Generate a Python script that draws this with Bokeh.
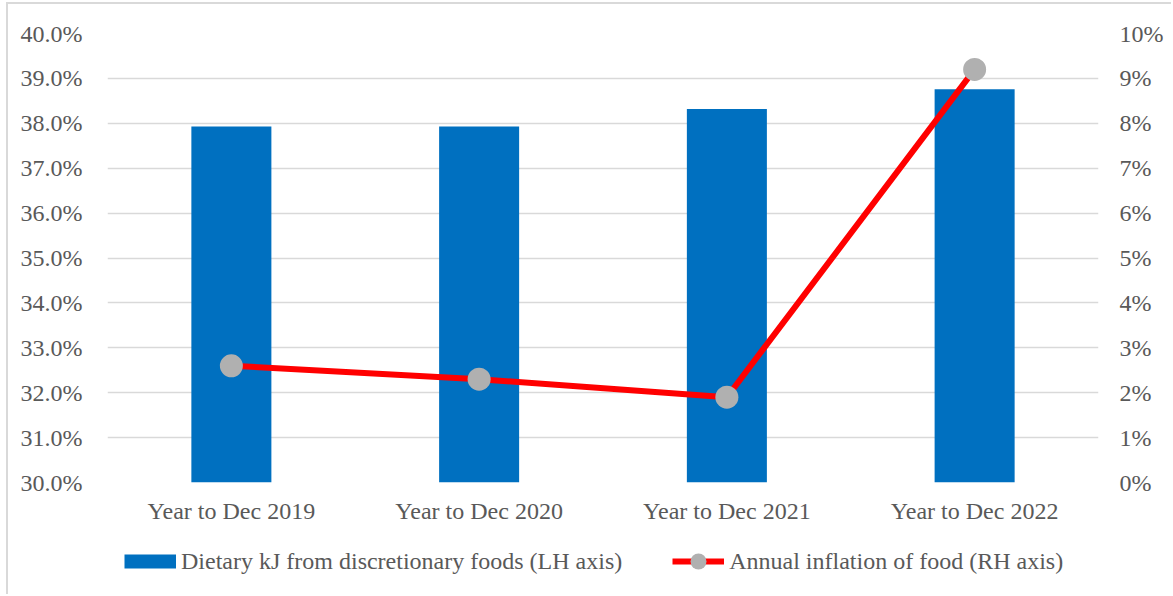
from bokeh.plotting import figure
from bokeh.layouts import column
from bokeh.models import (Range1d, LinearAxis, FixedTicker, CustomJSTickFormatter,
                          Legend, LegendItem, FactorRange)
from bokeh.embed import file_html
from bokeh.resources import INLINE

categories = ["Year to Dec 2019", "Year to Dec 2020", "Year to Dec 2021", "Year to Dec 2022"]
dietary_kj = [37.93, 37.93, 38.32, 38.76]       # % (LH axis)
food_inflation = [2.6, 2.3, 1.9, 9.2]            # % (RH axis)
left_ticks = [30, 31, 32, 33, 34, 35, 36, 37, 38, 39, 40]
right_ticks = [0, 1, 2, 3, 4, 5, 6, 7, 8, 9, 10]
bar_label = "Dietary kJ from discretionary foods (LH axis)"
line_label = "Annual inflation of food (RH axis)"

FONT = "Liberation Serif"
TXT = "#595959"
GRID = "#d9d9d9"
FS = "24px"
BLUE = "#0070C0"
RED = "#FF0000"
GREY = "#B0B0B0"
NAN = float("nan")

# ---------------- main chart ----------------
p = figure(x_range=FactorRange(*categories), y_range=Range1d(30, 40),
           width=1165, height=536, output_backend="svg", toolbar_location=None,
           min_border_left=99, min_border_right=75, min_border_top=29, min_border_bottom=58)
p.margin = (2, 0, 0, 6)
p.styles = {"border-top": "2px solid #d9d9d9", "border-left": "2px solid #d9d9d9"}
p.outline_line_color = None
p.extra_y_ranges = {"rh": Range1d(0, 10)}

p.vbar(x=categories, top=dietary_kj, bottom=30, width=0.323,
       fill_color=BLUE, line_color=None)
p.line(x=categories, y=food_inflation, y_range_name="rh",
       line_color=RED, line_width=6)
p.scatter(x=categories, y=food_inflation, y_range_name="rh", size=23,
          fill_color=GREY, line_color=None)

ya = p.yaxis[0]
ya.ticker = FixedTicker(ticks=left_ticks)
ya.formatter = CustomJSTickFormatter(code="return tick.toFixed(1) + '%';")

ra = LinearAxis(y_range_name="rh", ticker=FixedTicker(ticks=right_ticks),
                formatter=CustomJSTickFormatter(code="return tick.toFixed(0) + '%';"))
p.add_layout(ra, "right")

for ax in [ya, ra, p.xaxis[0]]:
    ax.axis_line_color = None
    ax.major_tick_line_color = None
    ax.minor_tick_line_color = None
    ax.major_label_text_font = FONT
    ax.major_label_text_font_size = FS
    ax.major_label_text_color = TXT
ya.major_label_standoff = 19
ra.major_label_standoff = 15
p.xaxis[0].major_label_standoff = 9

p.xgrid.grid_line_color = None
p.ygrid.ticker = FixedTicker(ticks=left_ticks)
p.ygrid.grid_line_color = GRID
p.ygrid.grid_line_width = 1.6

# ---------------- legend strip ----------------
lf = figure(width=1165, height=56, x_range=Range1d(0, 1), y_range=Range1d(0, 1),
            x_axis_type=None, y_axis_type=None, output_backend="svg",
            toolbar_location=None, min_border=0)
lf.margin = (0, 0, 0, 6)
lf.styles = {"border-left": "2px solid #d9d9d9"}
lf.outline_line_color = None
lf.grid.visible = False

# legend-only swatches (NaN data: nothing is drawn in the strip itself)
sw_bar = lf.line(x=[NAN], y=[NAN], line_color=BLUE, line_width=14)
sw_line = lf.line(x=[NAN], y=[NAN], line_color=RED, line_width=6)
sw_dot = lf.scatter(x=[NAN], y=[NAN], fill_color=GREY, line_color=None, size=16)

legend = Legend(items=[
    LegendItem(label=bar_label, renderers=[sw_bar]),
    LegendItem(label=line_label, renderers=[sw_line, sw_dot]),
], location=(17, 13), orientation="horizontal",
    glyph_width=52, glyph_height=40, label_standoff=5,
    padding=0, margin=0, spacing=50,
    border_line_color=None, background_fill_alpha=0,
    label_text_font=FONT, label_text_font_size=FS, label_text_color=TXT)
lf.add_layout(legend, "center")

layout = column(p, lf, spacing=0)
open("out.html", "w").write(file_html(layout, INLINE))
